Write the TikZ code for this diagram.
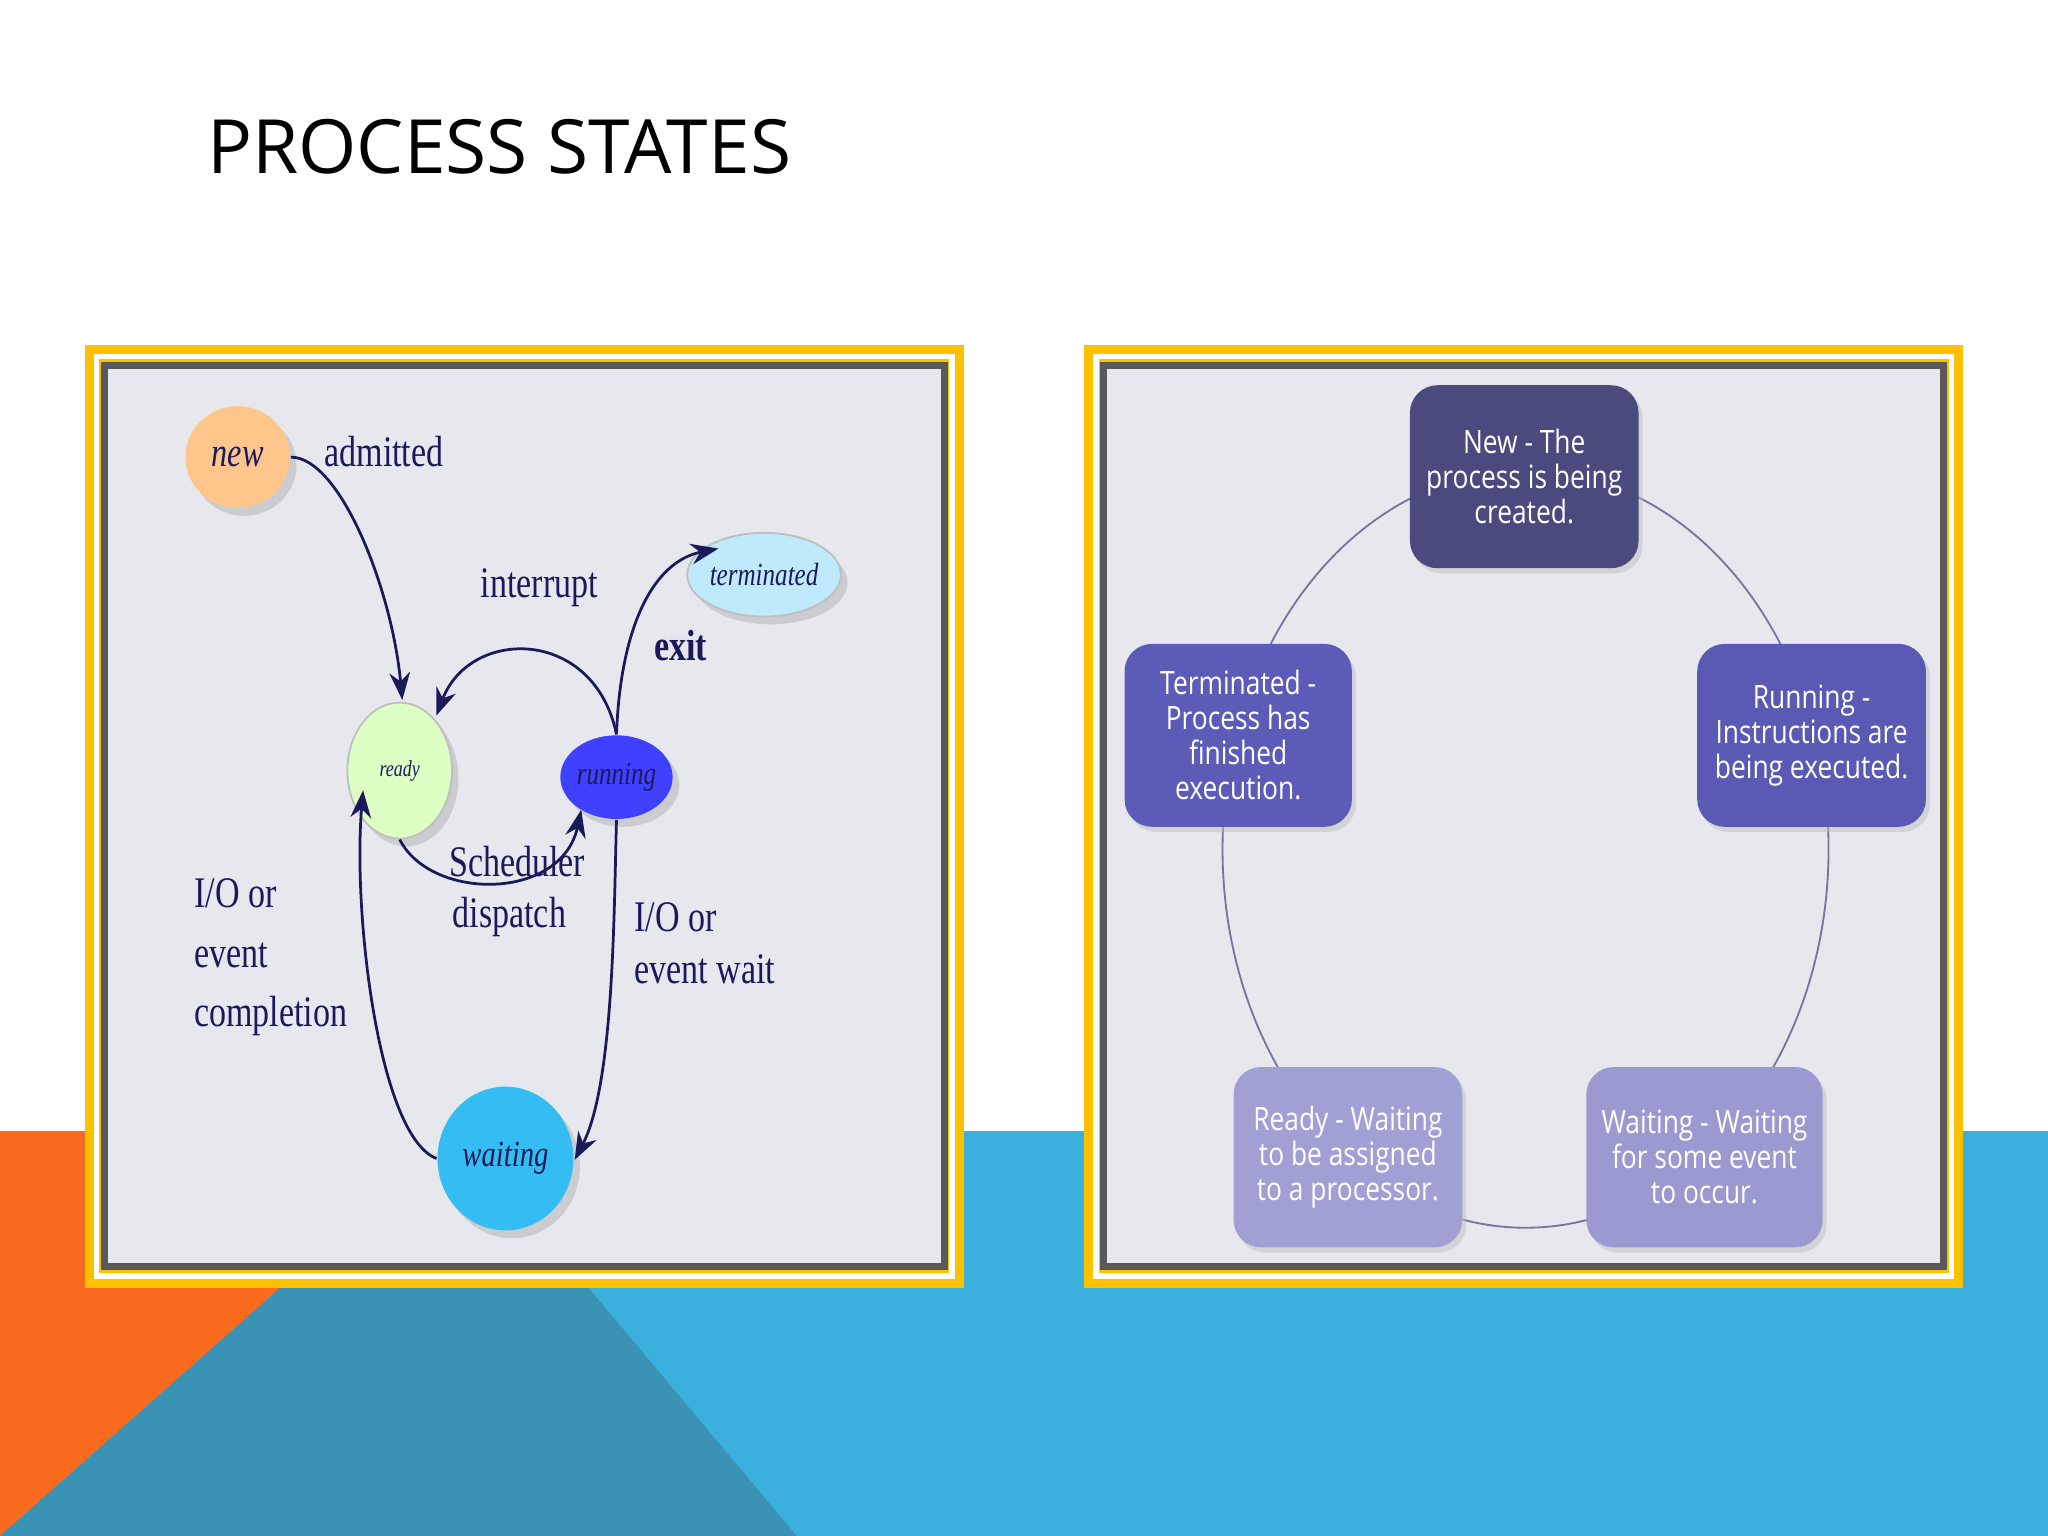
\documentclass[tikz,border=0pt]{standalone}
\usepackage{fontspec}
\setmainfont{Liberation Serif}[FakeStretch=0.78]
\newfontfamily\sansf{Open Sans}
\newfontfamily\sansn{Open Sans}[FakeStretch=0.82]
\usetikzlibrary{arrows.meta,shadows,shapes.geometric}
\definecolor{navy}{HTML}{1A1A5A}
\definecolor{yel}{HTML}{FFC000}
\definecolor{lblue}{HTML}{3BB0DC}
\definecolor{dteal}{HTML}{3A93B5}
\definecolor{orng}{HTML}{FA6B1E}
\definecolor{panel}{HTML}{E6E8EE}
\begin{document}
\begin{tikzpicture}[x=0.01cm,y=-0.01cm,
  st/.style={draw=none,ellipse,inner sep=0,drop shadow={shadow xshift=0.05cm,shadow yshift=-0.06cm,fill=gray!60}},
  lab/.style={text=navy,font=\fontsize{9.5pt}{10pt}\selectfont,align=left,inner sep=0},
  arr/.style={navy,semithick,-{Stealth[length=6pt]}},
  box/.style={rounded corners=6pt,text=white,font=\sansn\fontsize{7pt}{7.6pt}\selectfont,align=center,drop shadow={shadow xshift=0.03cm,shadow yshift=-0.04cm,fill=gray!50}}]
\useasboundingbox (0,0) rectangle (1568,1176);
\fill[white] (0,0) rectangle (1568,1176);
% background
\fill[lblue] (0,866) rectangle (1568,1176);
\fill[orng] (0,866) -- (350,866) -- (0,1176) -- cycle;
\fill[dteal] (0,1176) -- (350,866) -- (610,1176) -- cycle;
\node[anchor=west,font=\sansf\fontsize{16.3pt}{20pt}\selectfont,inner sep=0] (title) at (158,112) {PROCESS STATES};
% panels
\foreach \x/\n in {65/L,830/R}{
  \fill[yel] (\x,264) rectangle ++(673,722);
  \draw[white,line width=1.2pt] (\x+9,273) rectangle ++(655,704);
  \fill[panel] (\x+15,280) rectangle ++(643,690);
  \draw[gray!70!black,line width=1.5pt] (\x+15,280) rectangle ++(643,690);
}
% left diagram
\node[st,fill=orange!45!white,minimum width=0.8cm,minimum height=0.78cm] (new) at (182,350) {\textit{\fontsize{9pt}{10pt}\selectfont\color{navy}new}};
\node[st,fill=green!15!white!90!yellow,draw=gray!50,minimum width=0.8cm,minimum height=1.04cm] (ready) at (306,590) {\textit{\fontsize{5pt}{6pt}\selectfont\color{navy}ready}};
\node[st,fill=blue!75!white,minimum width=0.8cm,minimum height=0.64cm] (running) at (472,595) {\textit{\fontsize{7pt}{8pt}\selectfont\color{navy}running}};
\node[st,fill=cyan!25!white,draw=gray!50,minimum width=0.8cm,minimum height=0.64cm] (term) at (585,440) {\textit{\fontsize{7pt}{8pt}\selectfont\color{navy}terminated}};
\node[st,fill=cyan!80!white,minimum width=1.04cm,minimum height=1.1cm] (waiting) at (387,887) {\textit{\fontsize{8pt}{9pt}\selectfont\color{navy}waiting}};
\draw[arr] (new.east) .. controls (260,350) and (300,450) .. (308,536);
\draw[arr] (running.north) .. controls (455,480) and (360,480) .. (334,548);
\draw[arr] (ready.south) .. controls (330,690) and (430,690) .. (445,620);
\draw[arr] (running.north) .. controls (475,480) and (500,430) .. (550,420);
\draw[arr] (running.south) .. controls (470,700) and (470,830) .. (440,888);
\draw[arr] (waiting.west) .. controls (290,870) and (270,700) .. (278,605);
\node[lab] (l1) at (294,346) {admitted};
\node[lab] (l2) at (413,450) {interrupt};
\node[lab,font=\bfseries\fontsize{9.5pt}{10pt}\selectfont] (l3) at (521,494) {exit};
\node[lab] (l4) at (396,660) {Scheduler};
\node[lab] (l5) at (390,702) {dispatch};
\node[lab,anchor=north west,font=\fontsize{9.5pt}{11.5pt}\selectfont] (l6) at (485,690) {I/O or\\event wait};
\node[lab,anchor=north west,font=\fontsize{9.5pt}{13pt}\selectfont] (l7) at (148,672) {I/O or\\event\\completion};
% right diagram
\draw[navy!60,thin] (1168,650) ellipse [x radius=232, y radius=290];
\node[box,fill={rgb,255:red,74;green,74;blue,126},minimum width=1.75cm,minimum height=1.4cm] (bn) at (1167,365) {New - The\\process is being\\created.};
\node[box,fill={rgb,255:red,90;green,90;blue,180},minimum width=1.75cm,minimum height=1.4cm] (br) at (1387,563) {Running -\\Instructions are\\being executed.};
\node[box,fill={rgb,255:red,154;green,154;blue,208},minimum width=1.74cm,minimum height=1.38cm] (bw) at (1305,886) {Waiting - Waiting\\for some event\\to occur.};
\node[box,fill={rgb,255:red,160;green,160;blue,212},minimum width=1.75cm,minimum height=1.38cm] (bre) at (1032,886) {Ready - Waiting\\to be assigned\\to a processor.};
\node[box,fill={rgb,255:red,92;green,92;blue,184},minimum width=1.74cm,minimum height=1.4cm] (bt) at (948,563) {Terminated -\\Process has\\finished\\execution.};
\end{tikzpicture}
\end{document}
